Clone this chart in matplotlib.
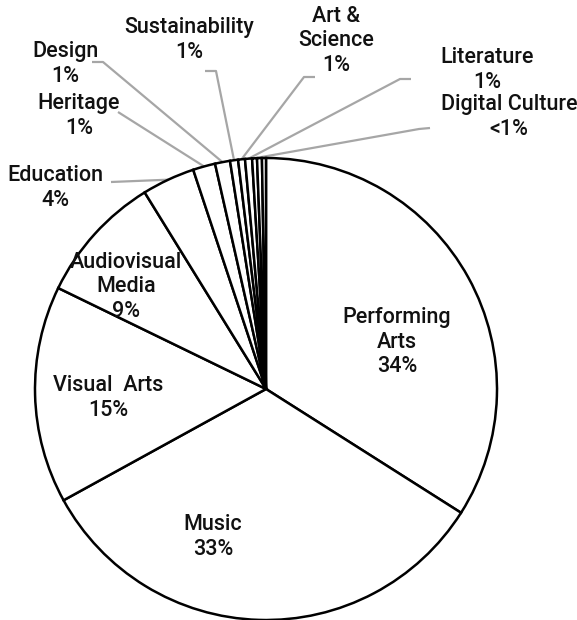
import matplotlib
matplotlib.use("Agg")
import matplotlib.pyplot as plt
import numpy as np

plt.rcParams["font.family"] = ["Roboto", "DejaVu Sans"]

# slice order: clockwise from 12 o'clock
categories = ["Performing\nArts", "Music", "Visual  Arts", "Audiovisual\nMedia", "Education",
              "Heritage", "Design", "Sustainability", "Art &\nScience", "Literature",
              "Digital Culture", "", ""]
shares = [34.0, 33.0, 15.2, 9.0, 3.7, 1.56, 1.05, 0.56, 0.48, 0.49, 0.34, 0.34, 0.28]
pct_labels = ["34%", "33%", "15%", "9%", "4%", "1%", "1%", "1%", "1%", "1%", "<1%", "", ""]

# label placement (pixel coords, y down): inside labels, then outside labels with leaders
inside_pos = {0: (397, 342), 1: (213, 537), 2: (108, 398), 3: (126, 287)}
outside_pos = {4: (55, 188), 5: (79, 116), 6: (65, 64), 7: (189, 40),
               8: (336, 41), 9: (487, 70), 10: (509, 117)}
leader_path = {4: [(111, 182)], 5: [(118, 112)], 6: [(92, 62), (103, 62)],
               7: [(205, 71), (216, 71)], 8: [(315, 77), (304, 77)],
               9: [(411, 79), (400, 79)], 10: [(430, 128), (419, 129)]}

W, H = 577, 620
cx, cy, r = 266, 389, 231

fig = plt.figure(figsize=(W / 100, H / 100), dpi=100)
ax = fig.add_axes([0, 0, 1, 1])

wedges, _ = ax.pie(shares, startangle=-90, counterclock=True, center=(cx, cy), radius=r,
                   colors=["white"] * len(shares),
                   wedgeprops=dict(edgecolor="black", linewidth=1.8))
ax.set_xlim(0, W)
ax.set_ylim(H, 0)
ax.set_aspect("equal")
ax.axis("off")

txt = dict(fontsize=15.5, fontweight="medium", color="#111111", ha="center", va="center",
           linespacing=1.22)

for i, (x, y) in inside_pos.items():
    ax.text(x, y, categories[i] + "\n" + pct_labels[i], **txt)

for i, (x, y) in outside_pos.items():
    ax.text(x, y, categories[i] + "\n" + pct_labels[i], **txt)
    w = wedges[i]
    mid = np.deg2rad((w.theta1 + w.theta2) / 2)
    end = (cx + r * np.cos(mid), cy + r * np.sin(mid))
    pts = leader_path[i] + [end]
    ax.plot([p[0] for p in pts], [p[1] for p in pts], color="#a6a6a6", lw=1.6,
            zorder=0, solid_capstyle="butt")

fig.savefig("out.png", dpi=100)
